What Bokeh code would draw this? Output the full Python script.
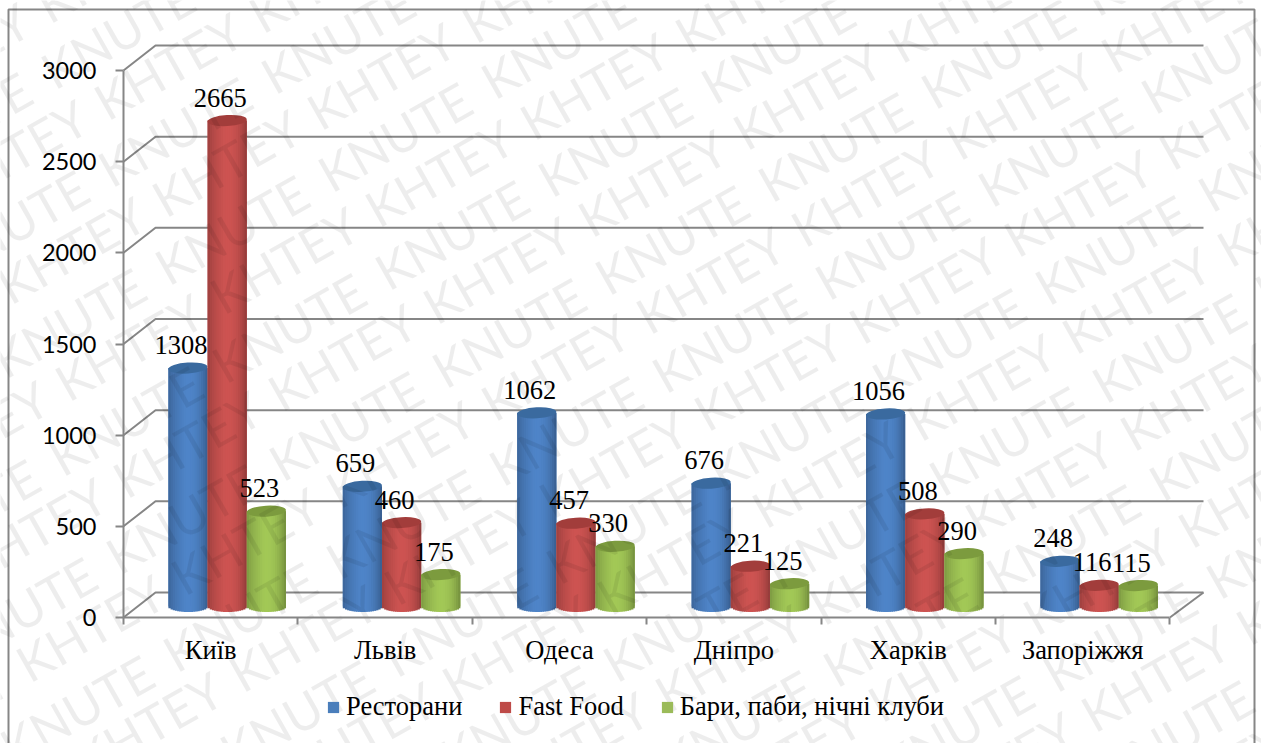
from bokeh.core.properties import value
from bokeh.embed import file_html
from bokeh.models import FixedTicker, Legend, LegendItem, LinearAxis, Range1d
from bokeh.plotting import figure
from bokeh.resources import INLINE
import numpy as np

# Chart data
cities = ["Київ", "Львів", "Одеса", "Дніпро", "Харків", "Запоріжжя"]
restaurants = [1308, 659, 1062, 676, 1056, 248]
fast_food = [2665, 460, 457, 221, 508, 116]
bars_pubs = [523, 175, 330, 125, 290, 115]
series_names = ["Ресторани", "Fast Food", "Бари, паби, нічні клуби"]
value_ticks = [0, 500, 1000, 1500, 2000, 2500, 3000]
watermark_words = ["KHTEY", "KNUTE"]

# Page geometry: the figure's frame fills the page, axes sit at fixed data locations
W, H = 1261, 743
ORIGIN_X, ORIGIN_Y = 123, 617
PX_PER_CAT = 174.4
PX_PER_UNIT = 547 / 3000
DEPTH_X, DEPTH_Y = 32, 25          # offset of the back wall
BAR_DX, BAR_DY = 16.5, 11          # bars stand in the middle of the floor
BAR_W, BAR_RY = 39.2, 5.5
STRIPS = 18

CAT0_PX = ORIGIN_X + PX_PER_CAT / 2


def xs(px):
    return (np.asarray(px, dtype=float) - CAT0_PX) / PX_PER_CAT


def ys(px):
    return (ORIGIN_Y - np.asarray(px, dtype=float)) / PX_PER_UNIT


dx_cat = DEPTH_X / PX_PER_CAT
dy_val = DEPTH_Y / PX_PER_UNIT
left_cat = -0.5
right_cat = len(cities) - 0.5
wall_end = float(xs(1203))

p = figure(
    width=W, height=H, output_backend="svg", toolbar_location=None,
    x_range=Range1d(float(xs(0)), float(xs(W))),
    y_range=Range1d(float(ys(H)), float(ys(0))),
    x_axis_location=None, y_axis_location=None, min_border=0,
    background_fill_color="white", border_fill_color="white", outline_line_color=None,
)
p.grid.visible = False

GREY = "#868686"

# Outer chart border, open at the bottom of the page
p.line(xs([8, 8, 1254, 1254]), ys([H, 9, 9, H]), line_color=GREY, line_width=2)

# Back-wall gridlines with their slanted returns to the value axis
wall_x = [[left_cat, left_cat + dx_cat, wall_end] for _ in value_ticks]
wall_y = [[v, v + dy_val, v + dy_val] for v in value_ticks]
p.multi_line(wall_x, wall_y, line_color=GREY, line_width=2)

# Right edge of the floor
p.line([right_cat, wall_end], [0, dy_val], line_color=GREY, line_width=2)

# Value axis
y_axis = LinearAxis(
    fixed_location=left_cat, bounds=(0, 3000),
    ticker=FixedTicker(ticks=value_ticks),
    axis_line_color=GREY, axis_line_width=2,
    major_tick_line_color=GREY, major_tick_line_width=2, major_tick_in=0, major_tick_out=8,
    minor_tick_line_color=None,
    major_label_text_font="Lato", major_label_text_font_size="23.5px",
    major_label_text_color="black", major_label_standoff=19,
)
p.add_layout(y_axis, "left")

# Category axis: labels at the centres, tick marks at the boundaries
x_axis = LinearAxis(
    fixed_location=0, bounds=(left_cat, right_cat),
    ticker=FixedTicker(ticks=list(range(len(cities))),
                       minor_ticks=[i - 0.5 for i in range(len(cities) + 1)]),
    major_label_overrides={i: c for i, c in enumerate(cities)},
    axis_line_color=GREY, axis_line_width=2,
    major_tick_line_color=None, major_tick_in=0, major_tick_out=0,
    minor_tick_line_color=GREY, minor_tick_line_width=2, minor_tick_in=0, minor_tick_out=7,
    major_label_text_font="Liberation Serif", major_label_text_font_size="26.5px",
    major_label_text_color="black", major_label_standoff=10,
)
p.add_layout(x_axis, "below")

# Cylinders: a flat base colour for the legend, then shaded vertical strips and a cap
palette = [
    {"mid": (79, 133, 201), "cap": "#3a6a9f", "flat": "#4a7ebb"},
    {"mid": (206, 84, 82), "cap": "#a23d3b", "flat": "#be4b48"},
    {"mid": (163, 201, 87), "cap": "#7c9b3e", "flat": "#9bbb59"},
]
all_series = [restaurants, fast_food, bars_pubs]
base_val = BAR_DY / PX_PER_UNIT
ry_val = BAR_RY / PX_PER_UNIT
bar_w_cat = BAR_W / PX_PER_CAT
bar_dx_cat = BAR_DX / PX_PER_CAT


def shade(t):
    if t < 0.45:
        return 0.74 + 0.26 * (t / 0.45) ** 0.6
    return 1 - 0.30 * ((t - 0.45) / 0.55) ** 2.5


def hex_of(rgb, k):
    return "#%02x%02x%02x" % tuple(int(min(255, c * k)) for c in rgb)


legend_items = []
label_x, label_y, label_t = [], [], []
for s, (vals, col) in enumerate(zip(all_series, palette)):
    centres = np.arange(len(cities)) + bar_dx_cat + (s - 1) * bar_w_cat
    tops = base_val + np.asarray(vals, dtype=float)

    flat = p.quad(left=centres - bar_w_cat / 2, right=centres + bar_w_cat / 2,
                  top=tops, bottom=base_val, fill_color=col["flat"], line_color=None)
    legend_items.append(LegendItem(label=series_names[s], renderers=[flat]))

    lefts, rights, top, bottom, fills = [], [], [], [], []
    for c, t_val in zip(centres, tops):
        for k in range(STRIPS):
            t0, t1 = k / STRIPS, (k + 1) / STRIPS
            tm = (t0 + t1) / 2
            lefts.append(c - bar_w_cat / 2 + t0 * bar_w_cat)
            # strips overlap their right neighbour to avoid hairline seams
            rights.append(c - bar_w_cat / 2 + min(1, t1 + 0.02) * bar_w_cat)
            top.append(t_val)
            bottom.append(base_val - ry_val * np.sqrt(max(0, 1 - (2 * tm - 1) ** 2)))
            fills.append(hex_of(col["mid"], shade(tm)))
    p.quad(left=lefts, right=rights, top=top, bottom=bottom, fill_color=fills, line_color=None)

    p.ellipse(x=centres, y=tops, width=bar_w_cat, height=2 * ry_val, angle=0.06,
              fill_color=col["cap"], line_color=None)

    label_x += list(centres)
    label_y += list(tops)
    label_t += [str(v) for v in vals]

# Value labels above each cylinder
p.text(x=label_x, y=label_y, text=label_t, x_offset=-7, y_offset=-23,
       text_align="center", text_baseline="middle", text_color="black",
       text_font=value("Liberation Serif"), text_font_size="26.5px")

# Legend along the bottom of the chart
legend = Legend(
    items=legend_items, orientation="horizontal", location=(326, 743 - 722),
    glyph_width=14, glyph_height=14, label_standoff=6, spacing=36, padding=0, margin=0,
    background_fill_alpha=0, border_line_color=None,
    label_text_font="Liberation Serif", label_text_font_size="26.5px", label_text_color="black",
    label_height=18,
)
p.add_layout(legend)

# Diagonal publisher's mark: slanted lines of one repeated word, alternating between the two words.
# Each word has its own anchor and spacing along the line; the lines themselves are evenly spaced.
MARK_LINES = {
    "KHTEY": {"anchor": (737, 135), "along": (155, -87), "across": (58, 97)},
    "KNUTE": {"anchor": (762, 187), "along": (163, -93), "across": (57, 98)},
}
mx, my, mt = [], [], []
for word in watermark_words:
    spec = MARK_LINES[word]
    for j in range(-9, 9):
        for i in range(-12, 13):
            px = spec["anchor"][0] + i * spec["along"][0] + j * spec["across"][0]
            py = spec["anchor"][1] + i * spec["along"][1] + j * spec["across"][1]
            if -150 < px < W + 20 and 0 < py < H + 115:
                mx.append(px)
                my.append(py)
                mt.append(word)
p.text(x=xs(mx), y=ys(my), text=mt, angle=np.radians(29.5),
       text_align="left", text_baseline="alphabetic", text_color="#000000", text_alpha=0.07,
       text_font=value("Lato"), text_font_size="50px")

open("out.html", "w").write(file_html(p, INLINE))
